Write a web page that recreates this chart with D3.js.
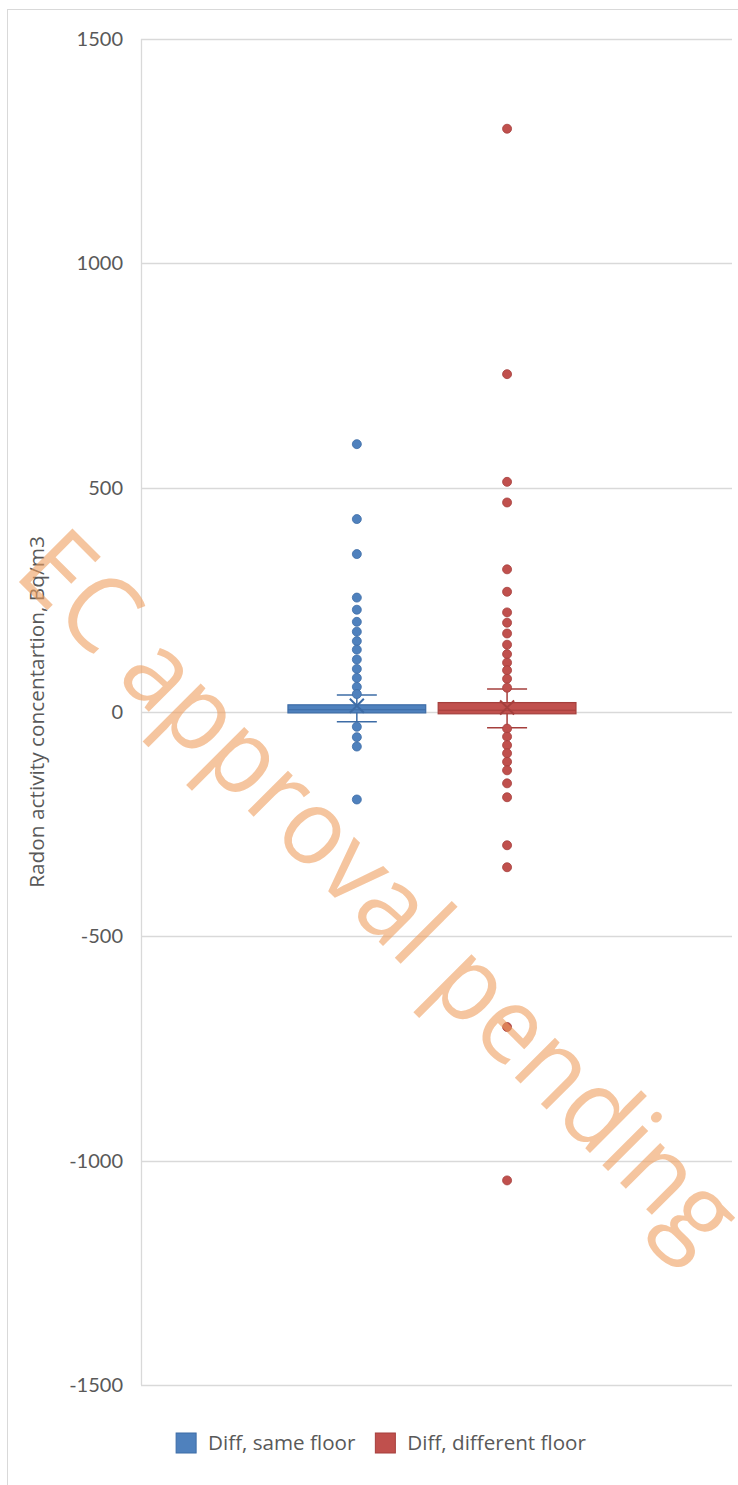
<!DOCTYPE html>
<html>
<head>
<meta charset="utf-8">
<script src="https://cdn.jsdelivr.net/npm/d3@7"></script>
<style>
  body { margin: 0; background: #fff; }
  svg { display: block; }
  text { font-family: Lato, "Open Sans", sans-serif; fill: #595959; }
</style>
</head>
<body>
<div id="chart"></div>
<script>
// Series names and colours
const seriesNames = ["Diff, same floor", "Diff, different floor"];
const fillColors = ["#4f81bd", "#c0504d"];
const lineColors = ["#3d6ca6", "#a53f3c"];

// Box statistics: [q1, median, q3, lowWhisker, highWhisker, mean]
const sameFloorBox = [-2, 5, 16, -22, 38, 14];
const diffFloorBox = [-4, 4, 21, -35, 51, 10];

// Outlier points
const sameFloorOutliers = [597, 430, 352, 255, 228, 201, 179, 158, 139, 117, 96, 76, 56, 40,
    -33, -56, -77, -195];
const diffFloorOutliers = [1300, 753, 513, 467, 318, 268, 222, 199, 175, 150, 129, 110, 93, 74, 54,
    -37, -55, -74, -92, -111, -130, -159, -190, -297, -346, -702, -1044];

const yTicks = [-1500, -1000, -500, 0, 500, 1000, 1500];
const yTitle = "Radon activity concentartion, Bq/m3";
const watermark = "EC approval pending";

const width = 738, height = 1485;
const plot = { left: 141, right: 732, top: 39, bottom: 1385 };

const svg = d3.select("#chart").append("svg")
    .attr("width", width)
    .attr("height", height);

// chart frame
svg.append("rect")
    .attr("x", 7.5).attr("y", 9.5)
    .attr("width", 760).attr("height", 1500)
    .attr("fill", "none")
    .attr("stroke", "#d9d9d9");

const y = d3.scaleLinear().domain([-1500, 1500]).range([plot.bottom, plot.top]);

const x0 = d3.scaleBand().domain(["all"]).range([plot.left, plot.right])
    .paddingInner(0).paddingOuter(0.526).align(0.485);
const x1 = d3.scaleBand().domain(seriesNames).range([0, x0.bandwidth()])
    .paddingInner(0.083).paddingOuter(0);

// gridlines
svg.append("g").selectAll("line")
    .data(yTicks)
    .join("line")
    .attr("x1", plot.left).attr("x2", plot.right)
    .attr("y1", d => Math.round(y(d)) + 0.5).attr("y2", d => Math.round(y(d)) + 0.5)
    .attr("stroke", "#d9d9d9").attr("stroke-width", 1.3);

// left axis line
svg.append("line")
    .attr("x1", plot.left + 0.5).attr("x2", plot.left + 0.5)
    .attr("y1", plot.top).attr("y2", plot.bottom)
    .attr("stroke", "#d9d9d9").attr("stroke-width", 1.3);

// tick labels
svg.append("g").selectAll("text")
    .data(yTicks)
    .join("text")
    .attr("x", 123)
    .attr("y", d => y(d))
    .attr("dy", "0.35em")
    .attr("text-anchor", "end")
    .style("font-size", "20px")
    .text(d => d);

// axis title
svg.append("text")
    .attr("transform", `translate(44,${(plot.top + plot.bottom) / 2}) rotate(-90)`)
    .attr("text-anchor", "middle")
    .style("font-family", "'Open Sans', sans-serif")
    .style("font-size", "20.8px")
    .text(yTitle);

const boxes = [sameFloorBox, diffFloorBox];
const outliers = [sameFloorOutliers, diffFloorOutliers];
const capHalf = 20;

seriesNames.forEach((name, i) => {
    const b = boxes[i];
    const left = x0("all") + x1(name);
    const cx = left + x1.bandwidth() / 2;
    const g = svg.append("g");

    // whisker line and caps
    g.append("line")
        .attr("x1", cx).attr("x2", cx)
        .attr("y1", y(b[3])).attr("y2", y(b[4]))
        .attr("stroke", lineColors[i]).attr("stroke-width", 1.5);
    g.selectAll("line.cap")
        .data([b[3], b[4]])
        .join("line")
        .attr("class", "cap")
        .attr("x1", cx - capHalf).attr("x2", cx + capHalf)
        .attr("y1", d => y(d)).attr("y2", d => y(d))
        .attr("stroke", lineColors[i]).attr("stroke-width", 1.5);

    // box
    g.append("rect")
        .attr("x", left).attr("width", x1.bandwidth())
        .attr("y", y(b[2])).attr("height", y(b[0]) - y(b[2]))
        .attr("fill", fillColors[i])
        .attr("stroke", lineColors[i]).attr("stroke-width", 1.2);
    g.append("line")
        .attr("x1", left).attr("x2", left + x1.bandwidth())
        .attr("y1", y(b[1])).attr("y2", y(b[1]))
        .attr("stroke", lineColors[i]).attr("stroke-width", 1);

    // outlier points
    g.selectAll("circle")
        .data(outliers[i])
        .join("circle")
        .attr("cx", cx).attr("cy", d => y(d))
        .attr("r", 4.5)
        .attr("fill", fillColors[i])
        .attr("stroke", lineColors[i]).attr("stroke-width", 0.8);

    // mean marker
    const m = y(b[5]), s = 7;
    g.append("path")
        .attr("d", `M${cx - s},${m - s}L${cx + s},${m + s}M${cx - s},${m + s}L${cx + s},${m - s}`)
        .attr("stroke", lineColors[i]).attr("stroke-width", 2);
});

// legend
const legend = svg.append("g");
let lx = 0;
seriesNames.forEach((name, i) => {
    const item = legend.append("g").attr("transform", `translate(${lx},0)`);
    item.append("rect")
        .attr("x", 0).attr("y", -10).attr("width", 20).attr("height", 20)
        .attr("fill", fillColors[i])
        .attr("stroke", lineColors[i]).attr("stroke-width", 1);
    const t = item.append("text")
        .attr("x", 32).attr("dy", "0.35em")
        .style("font-family", "'Open Sans', sans-serif")
        .style("font-size", "20.6px")
        .text(name);
    lx += 32 + t.node().getComputedTextLength() + 20;
});
const legendWidth = lx - 20;
legend.attr("transform", `translate(${381 - legendWidth / 2},1443)`);

// watermark on top
svg.append("text")
    .attr("transform", "translate(12,575) rotate(45)")
    .attr("textLength", 968)
    .attr("lengthAdjust", "spacingAndGlyphs")
    .style("font-family", "'Open Sans', sans-serif")
    .style("font-size", "106px")
    .style("font-weight", 500)
    .style("fill", "#ee9f5f")
    .style("fill-opacity", 0.6)
    .text(watermark);
</script>
</body>
</html>
